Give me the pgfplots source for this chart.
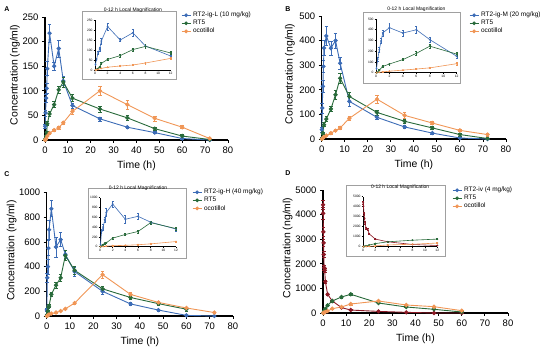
\documentclass[border=0pt]{standalone}
\usepackage{pgfplots}
\usepackage{pgfplotstable}
\pgfplotsset{compat=1.18}
\usepackage{fontspec}
\setmainfont{Liberation Sans}

\definecolor{cblue}{RGB}{60,108,182}
\definecolor{cgreen}{RGB}{40,106,58}
\definecolor{corange}{RGB}{240,150,86}
\definecolor{cred}{RGB}{140,26,38}
\definecolor{boxgray}{RGB}{160,160,160}

% ---------- Panel A ----------
\pgfplotstableread{
t y e
0.083 28 4
0.25 55 6
0.5 85 8
0.75 105 10
1 145 14
2 217 18
4 150 8
6 186 17
8 120 9
12 70 5
24 43 4
36 26 2
48 15 2
60 3 1
72 0 1
}\Ablue
\pgfplotstableread{
t y e
0.083 0 1
0.25 3 1
0.5 8 2
0.75 15 3
1 33 4
2 53 5
4 72 6
6 102 7
8 118 10
12 85 7
24 63 6
36 45 5
48 23 3
60 8 4
72 1 1
}\Agreen
\pgfplotstableread{
t y e
0.083 0 0
0.25 1 0
0.5 3 1
1 8 1
2 14 2
4 20 2
6 25 3
8 35 4
12 58 5
24 100 10
36 72 9
48 44 5
60 26 3
72 3 2
}\Aorange
% ---------- Panel B ----------
\pgfplotstableread{
t y e
0.083 38 10
0.25 126 20
0.5 214 25
0.75 295 25
1 370 30
2 419 40
4 369 30
6 400 30
8 308 25
12 153 20
24 88 8
36 49 5
48 24 4
60 4 2
72 0 1
}\Bblue
\pgfplotstableread{
t y e
0.083 0 1
0.25 4 2
0.5 24 4
1 58 8
2 81 10
4 122 10
6 180 18
8 247 20
12 173 18
24 108 10
36 72 8
48 45 6
60 18 5
72 2 2
}\Bgreen
\pgfplotstableread{
t y e
0.083 0 0
0.5 4 1
1 8 1
2 14 2
4 24 3
6 34 4
8 45 5
12 84 10
24 162 15
36 96 12
48 65 7
60 35 5
72 18 5
}\Borange
% ---------- Panel C ----------
\pgfplotstableread{
t y e
0.083 50 10
0.25 310 40
0.5 400 60
0.75 550 60
1 700 80
2 870 65
4 560 80
6 620 55
8 500 30
12 360 35
24 200 25
36 98 10
48 48 6
60 5 3
72 0 2
}\Cblue
\pgfplotstableread{
t y e
0.083 0 2
0.25 10 4
0.5 40 8
0.75 70 10
1 80 12
2 175 15
4 250 25
6 310 30
8 490 40
12 370 30
24 220 20
36 150 15
48 100 15
60 55 15
}\Cgreen
\pgfplotstableread{
t y e
0.083 0 0
0.5 5 1
1 12 2
2 20 3
4 28 3
6 40 4
8 58 5
12 105 8
24 335 30
36 175 15
48 110 10
60 65 8
72 28 5
}\Corange
% ---------- Panel D ----------
\pgfplotstableread{
t y e
0.033 4400 200
0.083 4050 250
0.167 3300 200
0.25 2850 150
0.333 2380 120
0.5 1840 100
0.75 1740 80
1 1280 60
2 760 40
4 490 30
8 220 20
12 120 15
24 65 10
36 27 5
48 0 3
60 0 2
}\Dred
\pgfplotstableread{
t y e
0.083 0 5
0.25 30 10
0.5 80 15
1 170 20
2 310 30
4 490 40
8 650 40
12 760 40
24 406 30
36 244 20
48 150 15
60 40 10
}\Dgreen
\pgfplotstableread{
t y e
0.083 0 0
0.5 20 5
1 40 8
2 80 10
4 176 20
8 244 30
12 366 40
24 488 40
36 325 30
48 257 25
60 95 20
}\Dorange

\tikzset{
  sblue/.style={cblue, mark=*, line width=0.9pt, mark size=1.7pt, mark options={solid}},
  sgreen/.style={cgreen, mark=*, line width=0.9pt, mark size=1.7pt, mark options={solid}},
  sorange/.style={corange, mark=*, line width=0.9pt, mark size=1.7pt, mark options={solid}},
  sred/.style={cred, mark=*, line width=0.9pt, mark size=1.7pt, mark options={solid}},
  iblue/.style={cblue, mark=*, line width=0.6pt, mark size=0.6pt},
  igreen/.style={cgreen, mark=*, line width=0.6pt, mark size=0.6pt},
  iorange/.style={corange, mark=*, line width=0.6pt, mark size=0.6pt},
  ired/.style={cred, mark=*, line width=0.6pt, mark size=0.6pt},
}

\pgfplotsset{
  eb/.style={error bars/.cd, y dir=both, y explicit,
    error bar style={line width=0.6pt, solid},
    error mark options={rotate=90, mark size=1.8pt, line width=0.6pt}},
  ieb/.style={error bars/.cd, y dir=both, y explicit,
    error bar style={line width=0.4pt, solid},
    error mark options={rotate=90, mark size=0.9pt, line width=0.4pt}},
  mainax/.style={
    scale only axis, enlargelimits=false, clip=false,
    axis lines*=left, axis line style={line width=1.1pt, -, black},
    tick align=outside, major tick length=3bp,
    tick style={black, line width=0.9pt},
    xmin=0, xmax=80, xtick={0,10,...,80},
    scaled ticks=false,
    /pgf/number format/1000 sep={},
    /pgf/number format/assume math mode=true,
    ticklabel style={font=\fontsize{9.5}{11}\selectfont},
    xlabel={Time (h)}, ylabel={Concentration (ng/ml)},
    label style={font=\fontsize{10.5}{12}\selectfont},
    xlabel style={at={(axis description cs:0.5,0)}, anchor=center, yshift=-26bp},
    ylabel style={anchor=center},
    legend cell align=left,
    legend style={draw=none, fill=none, anchor=north west,
      font=\fontsize{6.5}{7.5}\selectfont, row sep=-2bp, inner sep=0pt},
    legend image code/.code={\draw[mark repeat=2,mark phase=2,#1,mark size=1.4pt]
      plot coordinates {(0bp,0bp) (4.5bp,0bp) (9bp,0bp)};},
  },
  inset/.style={
    scale only axis, enlargelimits=false, clip=false,
    axis lines*=left, axis line style={line width=0.6pt, -, black},
    tick align=outside, major tick length=1.5bp,
    tick style={black, line width=0.5pt},
    xmin=0, xmax=12, xtick={0,2,...,12},
    scaled ticks=false,
    /pgf/number format/1000 sep={},
    /pgf/number format/assume math mode=true,
    ticklabel style={font=\fontsize{3.3}{4}\selectfont, inner sep=0.8pt},
    title={0-12 h Local Magnification},
    title style={font=\fontsize{5}{6}\selectfont, at={(axis description cs:0.5,1)}, anchor=center, yshift=4bp},
    restrict x to domain=0:12,
  },
}

\begin{document}
\begin{tikzpicture}
\path[use as bounding box] (0,0) rectangle (550bp,353bp);

% ===================== A =====================
\begin{axis}[mainax, at={(45bp,213bp)}, anchor=south west, width=183bp, height=123bp,
  ymin=0, ymax=250, ytick={0,50,...,250},
  ylabel style={at={(axis description cs:-0.164,0.53)}},
  legend style={at={(0.743,1.057)}}]
\addplot[sblue, eb] table[x=t,y=y,y error=e]{\Ablue};
\addlegendentry{RT2-ig-L (10 mg/kg)}
\addplot[sgreen, eb] table[x=t,y=y,y error=e]{\Agreen};
\addlegendentry{RT5}
\addplot[sorange, eb] table[x=t,y=y,y error=e]{\Aorange};
\addlegendentry{ocotillol}
\end{axis}
\draw[boxgray, line width=0.8bp, fill=white] (82bp,274bp) rectangle (176.5bp,342bp);
\begin{axis}[inset, at={(95bp,283bp)}, anchor=south west, width=75.7bp, height=50bp,
  ymin=0, ymax=250, ytick={0,50,...,250}]
\addplot[iblue, ieb] table[x=t,y=y,y error=e]{\Ablue};
\addplot[igreen, ieb] table[x=t,y=y,y error=e]{\Agreen};
\addplot[iorange, ieb] table[x=t,y=y,y error=e]{\Aorange};
\end{axis}
\node[font=\bfseries\fontsize{7}{8}\selectfont] at (7bp,344bp) {A};

% ===================== B =====================
\begin{axis}[mainax, at={(321.7bp,214bp)}, anchor=south west, width=184.3bp, height=123bp,
  ymin=0, ymax=500, ytick={0,100,...,500},
  ylabel style={at={(axis description cs:-0.172,0.53)}},
  legend style={at={(0.799,1.049)}}]
\addplot[sblue, eb] table[x=t,y=y,y error=e]{\Bblue};
\addlegendentry{RT2-ig-M (20 mg/kg)}
\addplot[sgreen, eb] table[x=t,y=y,y error=e]{\Bgreen};
\addlegendentry{RT5}
\addplot[sorange, eb] table[x=t,y=y,y error=e]{\Borange};
\addlegendentry{ocotillol}
\end{axis}
\draw[boxgray, line width=0.8bp, fill=white] (363bp,270bp) rectangle (460.7bp,341bp);
\begin{axis}[inset, at={(376bp,280.3bp)}, anchor=south west, width=80.7bp, height=53.7bp,
  ymin=0, ymax=500, ytick={0,100,...,500}]
\addplot[iblue, ieb] table[x=t,y=y,y error=e]{\Bblue};
\addplot[igreen, ieb] table[x=t,y=y,y error=e]{\Bgreen};
\addplot[iorange, ieb] table[x=t,y=y,y error=e]{\Borange};
\end{axis}
\node[font=\bfseries\fontsize{7}{8}\selectfont] at (288bp,344bp) {B};

% ===================== C =====================
\begin{axis}[mainax, at={(46.7bp,37bp)}, anchor=south west, width=186.3bp, height=123.3bp,
  ymin=0, ymax=1000, ytick={0,200,...,1000},
  ylabel style={at={(axis description cs:-0.188,0.53)}},
  legend style={at={(0.78,1.046)}}]
\addplot[sblue, eb] table[x=t,y=y,y error=e]{\Cblue};
\addlegendentry{RT2-ig-H (40 mg/kg)}
\addplot[sgreen, eb] table[x=t,y=y,y error=e]{\Cgreen};
\addlegendentry{RT5}
\addplot[sorange, eb] table[x=t,y=y,y error=e]{\Corange};
\addlegendentry{ocotillol}
\end{axis}
\draw[boxgray, line width=0.8bp, fill=white] (88bp,95bp) rectangle (186bp,165bp);
\begin{axis}[inset, at={(100bp,106.3bp)}, anchor=south west, width=76bp, height=49bp,
  ymin=0, ymax=1000, ytick={0,200,...,1000}]
\addplot[iblue, ieb] table[x=t,y=y,y error=e]{\Cblue};
\addplot[igreen, ieb] table[x=t,y=y,y error=e]{\Cgreen};
\addplot[iorange, ieb] table[x=t,y=y,y error=e]{\Corange};
\end{axis}
\node[font=\bfseries\fontsize{7}{8}\selectfont] at (7bp,179bp) {C};

% ===================== D =====================
\begin{axis}[mainax, at={(323bp,40bp)}, anchor=south west, width=185bp, height=123bp,
  ymin=0, ymax=5000, ytick={0,1000,...,5000},
  ylabel style={at={(axis description cs:-0.191,0.53)}},
  legend style={at={(0.697,1.041)}}]
\addlegendimage{sblue}
\addlegendentry{RT2-iv (4 mg/kg)}
\addplot[sred, forget plot, eb] table[x=t,y=y,y error=e]{\Dred};
\addplot[sgreen, eb] table[x=t,y=y,y error=e]{\Dgreen};
\addlegendentry{RT5}
\addplot[sorange, eb] table[x=t,y=y,y error=e]{\Dorange};
\addlegendentry{ocotillol}
\end{axis}
\draw[boxgray, line width=0.8bp, fill=white] (346bp,97bp) rectangle (445bp,168bp);
\begin{axis}[inset, at={(363bp,106.3bp)}, anchor=south west, width=74.3bp, height=50bp,
  ymin=0, ymax=5000, ytick={0,1000,...,5000}]
\addplot[ired, ieb] table[x=t,y=y,y error=e]{\Dred};
\addplot[igreen, ieb] table[x=t,y=y,y error=e]{\Dgreen};
\addplot[iorange, ieb] table[x=t,y=y,y error=e]{\Dorange};
\end{axis}
\node[font=\bfseries\fontsize{7}{8}\selectfont] at (288bp,180bp) {D};

\end{tikzpicture}
\end{document}
